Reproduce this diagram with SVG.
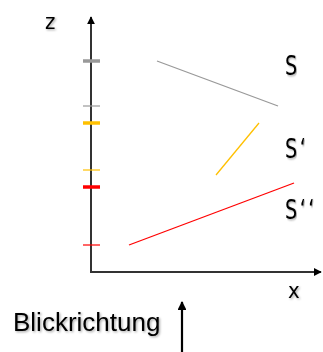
<svg xmlns="http://www.w3.org/2000/svg" width="323" height="352" viewBox="0 0 323 352">
<style>
.lbl{font-family:"DejaVu Sans Condensed","DejaVu Sans",sans-serif;fill:#000;filter:url(#sh)}
.ax{stroke:#333;stroke-width:2;fill:none}
.thick{stroke-width:3.5}
.thin{stroke-width:1.2}
</style>
<defs>
<filter id="sh" x="-20%" y="-20%" width="150%" height="150%">
<feDropShadow dx="1.2" dy="1.2" stdDeviation="0.8" flood-color="#000" flood-opacity="0.35"/>
</filter>
<marker id="ah" viewBox="0 0 10 10" refX="9" refY="5" markerWidth="4" markerHeight="4" orient="auto" markerUnits="strokeWidth">
<path d="M0,0 L10,5 L0,10 z" fill="#000"/>
</marker>
</defs>
<g id="axes">
<line class="ax" x1="91" y1="273" x2="91" y2="17" marker-end="url(#ah)"/>
<line class="ax" x1="90" y1="272" x2="321" y2="272" marker-end="url(#ah)"/>
</g>
<g id="ticks">
<line x1="83" y1="61" x2="100" y2="61" stroke="#999" class="thick"/>
<line x1="83" y1="106" x2="100" y2="106" stroke="#999" class="thin"/>
<line x1="83" y1="123" x2="100" y2="123" stroke="#FFC000" class="thick"/>
<line x1="83" y1="170" x2="100" y2="170" stroke="#FFC000" class="thin"/>
<line x1="83" y1="187" x2="100" y2="187" stroke="#FF0000" class="thick"/>
<line x1="83" y1="245" x2="100" y2="245" stroke="#FF0000" class="thin"/>
</g>
<g id="connectors">
<line x1="157" y1="61" x2="278" y2="106" stroke="#999" stroke-width="1.3"/>
<line x1="216" y1="175" x2="259" y2="123" stroke="#FFC000" stroke-width="1.3"/>
<line x1="129" y1="245" x2="294" y2="183" stroke="#FF0000" stroke-width="1.3"/>
</g>
<g id="labels">
<text class="lbl" x="45" y="29" font-size="22">z</text>
<text class="lbl" x="288" y="298" font-size="22">x</text>
<g transform="translate(285,0) scale(0.82,1)">
<text class="lbl" x="0" y="75" font-size="26">S</text>
<text class="lbl" x="0" y="158" font-size="26" letter-spacing="3">S‘</text>
<text class="lbl" x="0" y="219" font-size="26" letter-spacing="3">S‘‘</text>
</g>
</g>
<g id="view">
<text x="13" y="331" font-family="Liberation Sans, Arial, sans-serif" font-size="26" fill="#000" filter="url(#sh)">Blickrichtung</text>
<line x1="182" y1="352" x2="182" y2="302" stroke="#000" stroke-width="2.2" marker-end="url(#ah)"/>
</g>
</svg>
